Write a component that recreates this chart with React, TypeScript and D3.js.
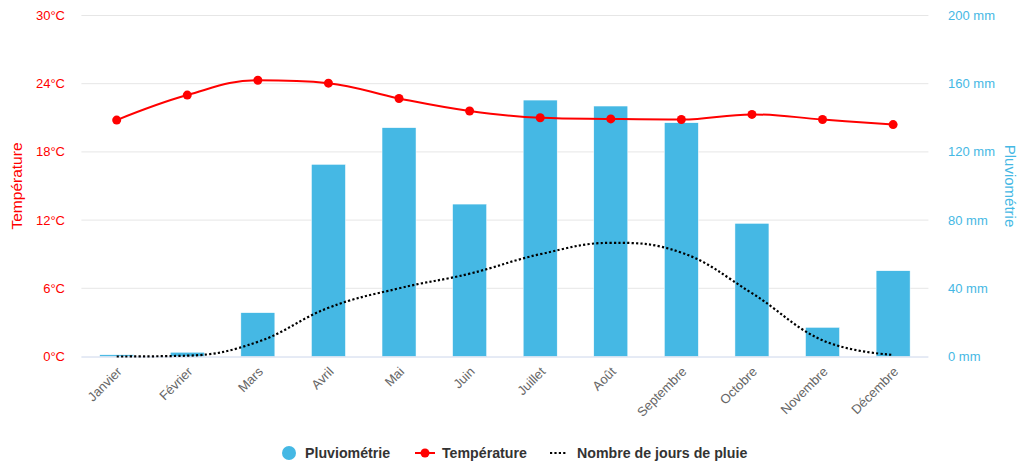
import * as d3 from "d3";

const months = ["Janvier", "Février", "Mars", "Avril", "Mai", "Juin", "Juillet", "Août", "Septembre", "Octobre", "Novembre", "Décembre"];
const rainfall = [1, 2.5, 25.7, 112.7, 134.2, 89.4, 150.4, 146.9, 137.1, 78.1, 17.1, 50.3];
const temperature = [20.8, 23.0, 24.3, 24.05, 22.7, 21.6, 21.0, 20.9, 20.85, 21.3, 20.85, 20.4];
const rainDays = [0, 0.05, 0.9, 3.0, 4.2, 5.1, 6.3, 7.0, 6.4, 3.9, 1.0, 0.1];
const tempTicks = [0, 6, 12, 18, 24, 30];
const rainTicks = [0, 40, 80, 120, 160, 200];

const W = 1019;
const H = 465;
const left = 81.4;
const right = 928.4;
const top = 15.5;
const bottom = 356.5;
const font = "'Liberation Sans', Arial, Helvetica, sans-serif";
const red = "#ff0000";
const blue = "#45b8e4";

// Highcharts style spline (smoothing 1.5)
function spline(pts: [number, number][]) {
  const n = pts.length;
  const lc: [number, number][] = [];
  const rc: [number, number][] = [];
  for (let i = 0; i < n; i++) {
    const [x, y] = pts[i];
    if (i === 0 || i === n - 1) {
      lc.push([x, y]);
      rc.push([x, y]);
      continue;
    }
    const [lx, ly] = pts[i - 1];
    const [nx, ny] = pts[i + 1];
    const s = 1.5, den = 2.5;
    const lcx = (s * x + lx) / den;
    let lcy = (s * y + ly) / den;
    const rcx = (s * x + nx) / den;
    let rcy = (s * y + ny) / den;
    if (rcx !== lcx) {
      const corr = ((rcy - lcy) * (rcx - x)) / (rcx - lcx) + y - rcy;
      lcy += corr;
      rcy += corr;
    }
    if (lcy > ly && lcy > y) { lcy = Math.max(ly, y); rcy = 2 * y - lcy; }
    else if (lcy < ly && lcy < y) { lcy = Math.min(ly, y); rcy = 2 * y - lcy; }
    if (rcy > ny && rcy > y) { rcy = Math.max(ny, y); lcy = 2 * y - rcy; }
    else if (rcy < ny && rcy < y) { rcy = Math.min(ny, y); lcy = 2 * y - rcy; }
    lc.push([lcx, lcy]);
    rc.push([rcx, rcy]);
  }
  let d = `M${pts[0][0]},${pts[0][1]}`;
  for (let i = 1; i < n; i++) {
    d += `C${rc[i - 1][0]},${rc[i - 1][1]} ${lc[i][0]},${lc[i][1]} ${pts[i][0]},${pts[i][1]}`;
  }
  return d;
}

export default function App() {
  const x = d3.scaleBand().domain(months).range([left, right]);
  const yT = d3.scaleLinear().domain([0, 30]).range([bottom, top]);
  const yR = d3.scaleLinear().domain([0, 200]).range([bottom, top]);
  const yD = d3.scaleLinear().domain([0, 21]).range([bottom, top]);
  const cx = (m: string) => (x(m) as number) + x.bandwidth() / 2;
  const barW = 34;

  const tempPts = months.map((m, i) => [cx(m), yT(temperature[i])] as [number, number]);
  const dayPts = months.map((m, i) => [cx(m), yD(rainDays[i])] as [number, number]);

  return (
    <svg width={W} height={H} style={{ position: "absolute", left: 0, top: 0, fontFamily: font }}>
      <rect width={W} height={H} fill="#fff" />
      {tempTicks.map((t) => (
        <g key={t}>
          {t > 0 && <line x1={left} x2={right} y1={yT(t)} y2={yT(t)} stroke="#e6e6e6" />}
          <text x={65} y={yT(t) + 4.5} textAnchor="end" fontSize={13} fill={red}>{`${t}°C`}</text>
        </g>
      ))}
      {rainTicks.map((t) => (
        <text key={t} x={948} y={yR(t) + 4.5} fontSize={13} fill={blue}>{`${t} mm`}</text>
      ))}
      <text transform={`translate(22,186) rotate(-90)`} textAnchor="middle" fontSize={15.5} fill={red}>Température</text>
      <text transform={`translate(1005,186) rotate(90)`} textAnchor="middle" fontSize={15} fill={blue}>Pluviométrie</text>

      {months.map((m, i) => (
        <rect key={m} x={cx(m) - barW / 2} y={yR(rainfall[i])} width={barW} height={bottom - yR(rainfall[i])} fill={blue} stroke="#fff" strokeWidth={0.5} />
      ))}
      <line x1={left} x2={right} y1={bottom + 0.5} y2={bottom + 0.5} stroke="#ccd6eb" />

      <path d={spline(dayPts)} fill="none" stroke="#000" strokeWidth={2.2} strokeDasharray="2.2,2.2" />
      <path d={spline(tempPts)} fill="none" stroke={red} strokeWidth={2} />
      {tempPts.map(([px, py], i) => (
        <circle key={i} cx={px} cy={py} r={4.5} fill={red} />
      ))}

      {months.map((m) => (
        <text key={m} transform={`translate(${cx(m) + 6},${bottom + 16}) rotate(-45)`} textAnchor="end" fontSize={13} fill="#666">{m}</text>
      ))}

      <g fontSize={14.2} fontWeight="bold" fill="#333">
        <circle cx={289} cy={453} r={7} fill={blue} />
        <text x={305} y={458}>Pluviométrie</text>
        <line x1={415} x2={435} y1={453} y2={453} stroke={red} strokeWidth={2} />
        <circle cx={425} cy={453} r={4.5} fill={red} />
        <text x={442} y={458}>Température</text>
        <line x1={550} x2={566} y1={453} y2={453} stroke="#000" strokeWidth={2.2} strokeDasharray="2.2,2.2" />
        <text x={577} y={458}>Nombre de jours de pluie</text>
      </g>
    </svg>
  );
}
